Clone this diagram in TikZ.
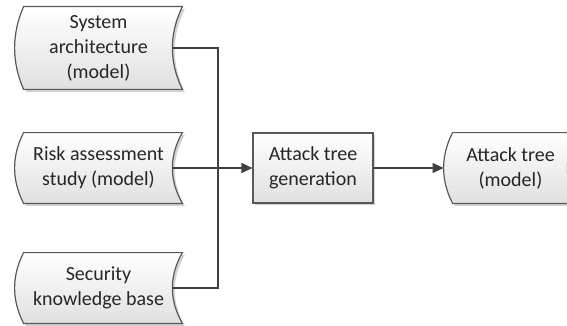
\documentclass[tikz,border=0pt]{standalone}
\usepackage{fontspec}
\setmainfont{Carlito}
\usetikzlibrary{arrows.meta,calc,shadows,backgrounds}

% outline of a stored-data node, drawn behind its text
\newcommand{\storeshape}[1]{%
  \begin{scope}[on background layer]
    \path[storeline] ([xshift=4.5pt]#1.north west) -- (#1.north east)
      .. controls ($(#1.north east)!0.33!(#1.south east)+(-6.7pt,0)$) and ($(#1.north east)!0.67!(#1.south east)+(-6.7pt,0)$) .. (#1.south east)
      -- ([xshift=4.5pt]#1.south west)
      .. controls ($(#1.south west)!0.33!(#1.north west)+(-1.5pt,0)$) and ($(#1.south west)!0.67!(#1.north west)+(-1.5pt,0)$) .. cycle;
  \end{scope}}

\begin{document}
\begin{tikzpicture}[x=0.5pt, y=-0.5pt,
    font=\fontsize{10}{12.5}\selectfont,
    boxshadow/.style={drop shadow={shadow xshift=1.2pt, shadow yshift=-1.2pt, fill=black!35, opacity=0.5}},
    storeline/.style={draw=black!65, line width=0.6pt, top color=white, bottom color=black!12, boxshadow},
    store/.style={rectangle, inner sep=0pt, minimum width=83.5pt, minimum height=35pt, align=center, text=black!85},
    process/.style={rectangle, draw=black!65, line width=0.6pt, top color=white, bottom color=black!12, boxshadow, inner sep=0pt, minimum width=60pt, minimum height=35pt, align=center, text=black!85},
    link/.style={draw=black!75, line width=0.6pt},
    arrow/.style={link, -{Triangle[length=5.5pt, width=5pt]}}
]
\useasboundingbox (0,0) rectangle (567,326);

% Inputs
\node[store, minimum height=41pt] (sysarch) at (98.5,48) {System\\architecture\\(model)};
\node[store] (riskstudy) at (98.5,168) {Risk assessment\\study (model)};
\node[store] (seckb) at (98.5,288) {Security\\knowledge base};

% Generation step and result
\node[process] (treegen) at (313,168) {Attack tree\\generation};
\node[store, minimum width=66.5pt] (treemodel) at (510.5,168) {Attack tree\\(model)};

\storeshape{sysarch}
\storeshape{riskstudy}
\storeshape{seckb}
\storeshape{treemodel}

% Connectors
\coordinate (bus) at (218,168);
\draw[link] ([xshift=-5pt]sysarch.east) -| (bus) |- ([xshift=-5pt]seckb.east);
\draw[arrow] ([xshift=-5pt]riskstudy.east) -- (treegen);
\draw[arrow] (treegen) -- (treemodel.west);

\end{tikzpicture}
\end{document}
